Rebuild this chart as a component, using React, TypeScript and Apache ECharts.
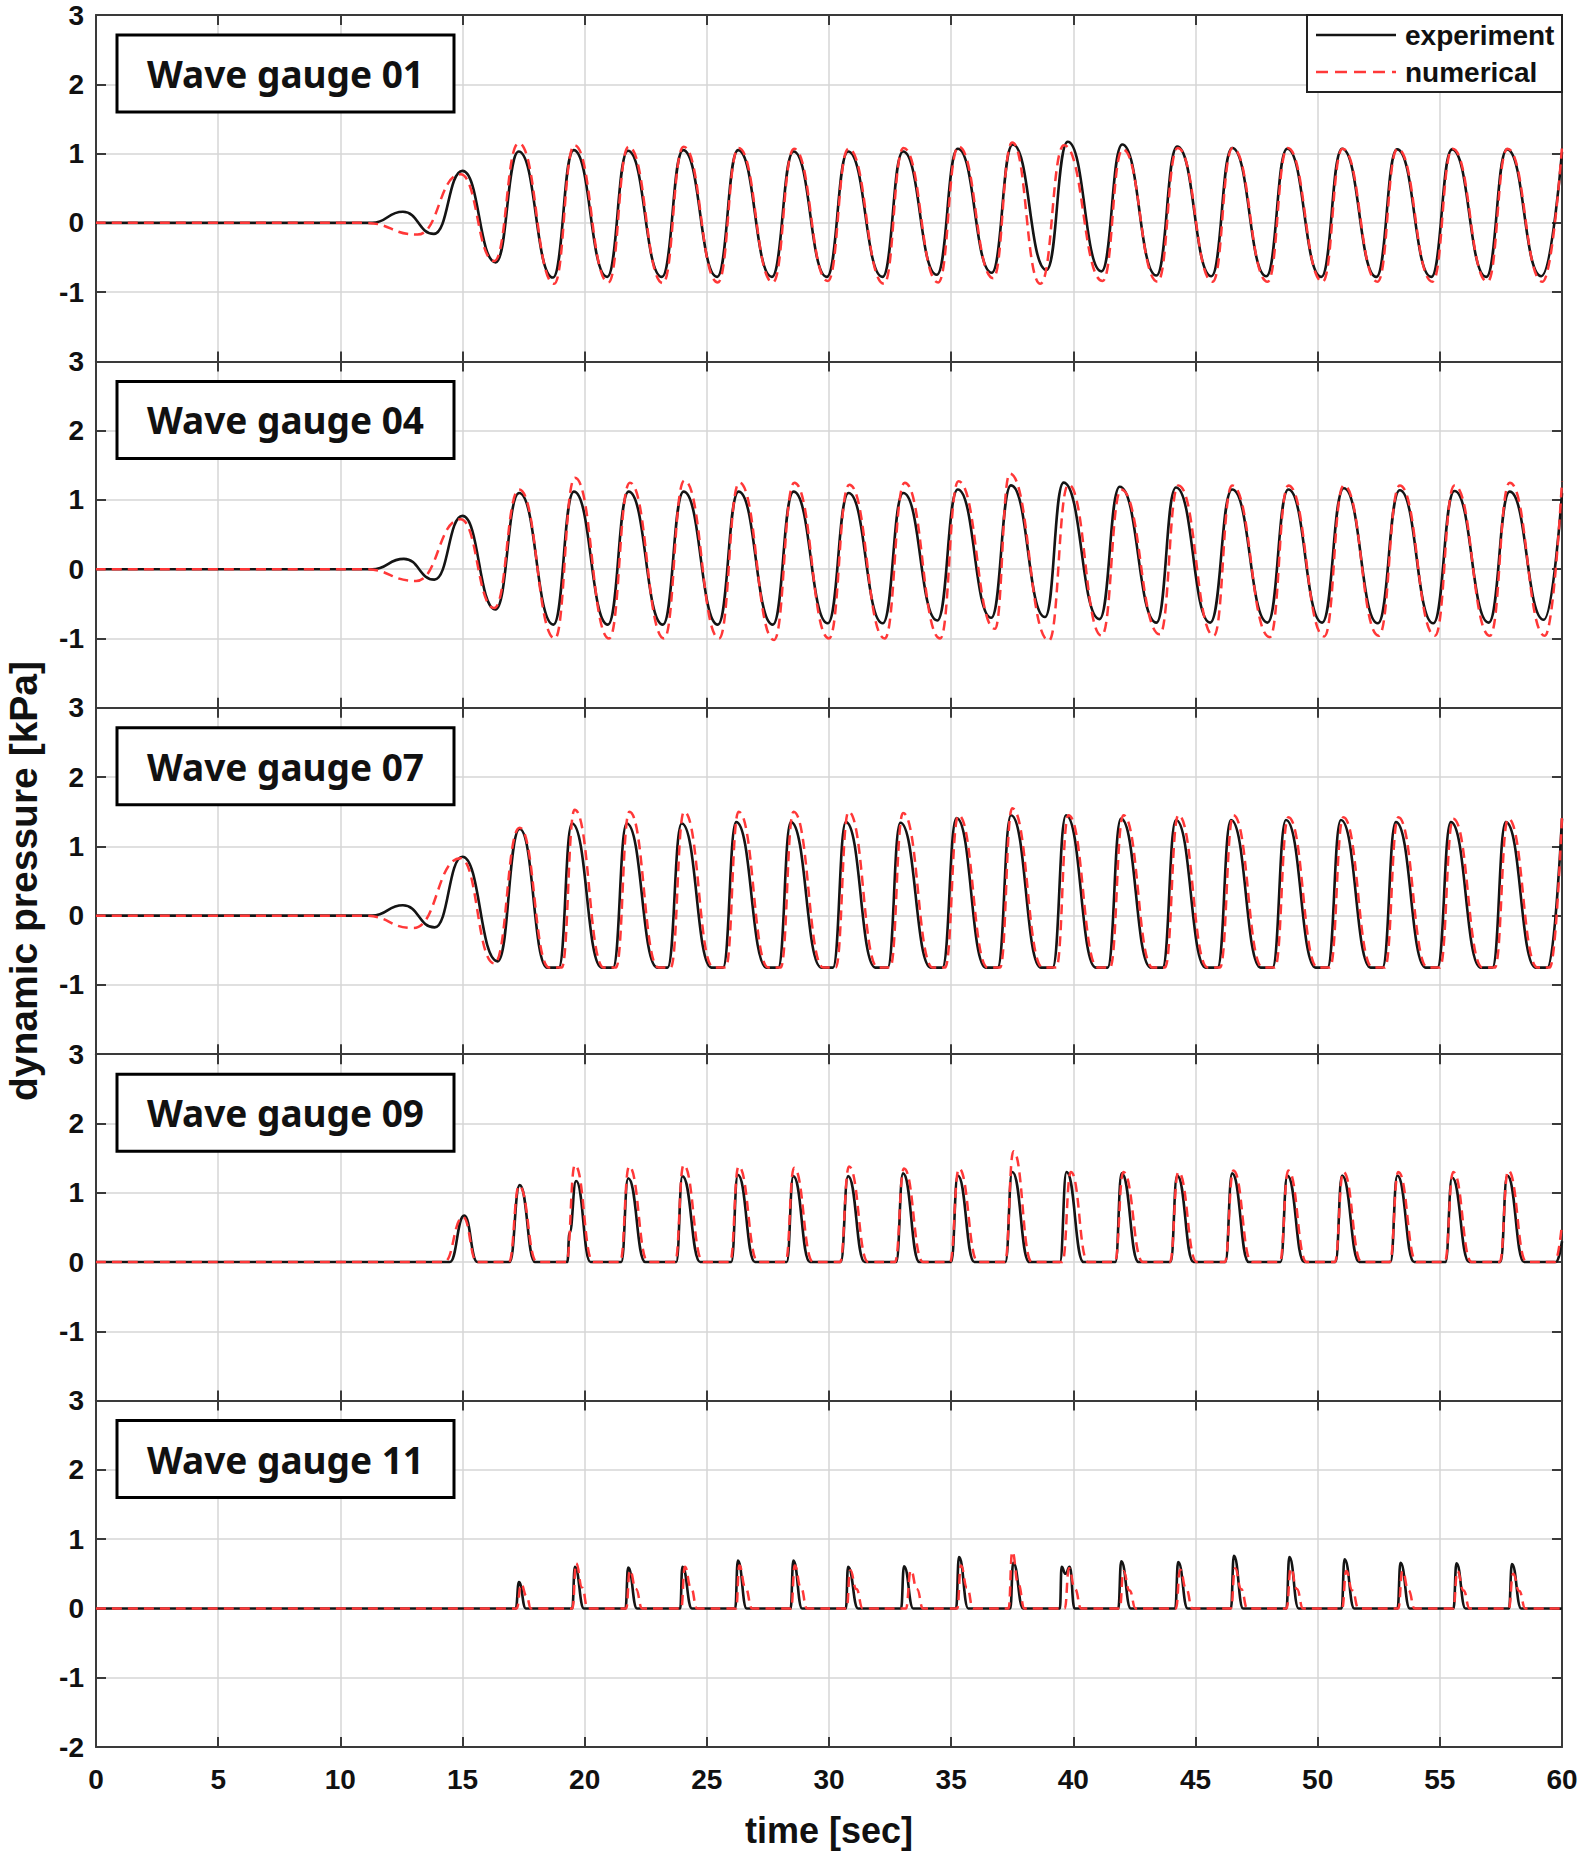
import React, { useEffect, useRef } from 'react';
import * as echarts from 'echarts';

// ---------- data (time [sec], dynamic pressure [kPa]) ----------
const gaugeNames = ['Wave gauge 01', 'Wave gauge 04', 'Wave gauge 07', 'Wave gauge 09', 'Wave gauge 11'];
const seriesNames = ['experiment', 'numerical'];
const xMin = 0, xMax = 60, xStep = 5;
const yMin = -2, yMax = 3, yStep = 1;

const g01Exp = [
  [0, 0], [11.3, 0], [12.56, 0.16], [13.83, -0.16], [15.0, 0.75], [16.36, -0.57], [17.3, 1.03], [18.7, -0.79],
  [19.55, 1.05], [20.92, -0.78], [21.77, 1.04], [23.16, -0.78], [24.03, 1.05], [25.42, -0.78], [26.28, 1.05],
  [27.66, -0.78], [28.55, 1.03], [29.91, -0.78], [30.78, 1.03], [32.19, -0.78], [33.03, 1.03], [34.41, -0.75],
  [35.27, 1.07], [36.66, -0.72], [37.52, 1.13], [38.9, -0.68], [39.77, 1.17], [41.15, -0.7], [42.0, 1.13],
  [43.4, -0.76], [44.25, 1.1], [45.65, -0.77], [46.5, 1.08], [47.9, -0.77], [48.75, 1.07], [50.15, -0.78],
  [51.0, 1.07], [52.4, -0.78], [53.25, 1.06], [54.65, -0.78], [55.5, 1.06], [56.9, -0.78], [57.75, 1.06],
  [59.15, -0.77], [60, 1.02],
];
const g01Num = [
  [0, 0], [11.0, 0], [13.16, -0.17], [14.92, 0.7], [16.3, -0.55], [17.3, 1.15], [18.75, -0.88], [19.58, 1.12],
  [20.97, -0.86], [21.8, 1.1], [23.2, -0.87], [24.05, 1.1], [25.45, -0.86], [26.3, 1.08], [27.7, -0.86],
  [28.57, 1.07], [29.95, -0.84], [30.8, 1.07], [32.25, -0.88], [33.05, 1.08], [34.47, -0.86], [35.3, 1.1],
  [36.72, -0.8], [37.5, 1.16], [38.65, -0.88], [39.62, 1.12], [41.2, -0.84], [42.02, 1.06], [43.45, -0.85],
  [44.27, 1.08], [45.7, -0.85], [46.52, 1.08], [47.95, -0.85], [48.77, 1.08], [50.2, -0.85], [51.02, 1.07],
  [52.45, -0.85], [53.27, 1.07], [54.7, -0.85], [55.52, 1.07], [56.95, -0.85], [57.77, 1.07], [59.2, -0.85],
  [60, 1.1],
];
const g04Exp = [
  [0, 0], [11.3, 0], [12.6, 0.15], [13.85, -0.15], [15.0, 0.77], [16.35, -0.58], [17.32, 1.1], [18.72, -0.8],
  [19.56, 1.12], [20.95, -0.8], [21.8, 1.12], [23.2, -0.8], [24.05, 1.12], [25.45, -0.8], [26.3, 1.12],
  [27.7, -0.8], [28.55, 1.12], [29.95, -0.78], [30.8, 1.1], [32.2, -0.78], [33.04, 1.1], [34.43, -0.74],
  [35.27, 1.15], [36.64, -0.7], [37.45, 1.21], [38.84, -0.69], [39.6, 1.25], [41.07, -0.72], [41.9, 1.19],
  [43.4, -0.77], [44.2, 1.18], [45.6, -0.77], [46.5, 1.15], [47.95, -0.77], [48.8, 1.15], [50.18, -0.77],
  [51.07, 1.17], [52.46, -0.78], [53.36, 1.14], [54.73, -0.78], [55.6, 1.13], [57.0, -0.77], [57.86, 1.12],
  [59.25, -0.73], [60, 1.1],
];
const g04Num = [
  [0, 0], [11.0, 0], [13.1, -0.17], [14.92, 0.72], [16.3, -0.56], [17.32, 1.15], [18.78, -1.0], [19.6, 1.32],
  [21.0, -1.0], [21.85, 1.25], [23.25, -1.0], [24.08, 1.28], [25.5, -1.0], [26.33, 1.25], [27.75, -1.02],
  [28.58, 1.25], [30.0, -1.0], [30.83, 1.22], [32.28, -1.0], [33.1, 1.25], [34.55, -1.0], [35.3, 1.27],
  [36.79, -0.86], [37.4, 1.38], [39.0, -1.03], [39.8, 1.22], [41.16, -0.96], [41.96, 1.15], [43.54, -0.94],
  [44.3, 1.21], [45.75, -0.96], [46.5, 1.21], [48.04, -0.98], [48.8, 1.21], [50.27, -0.97], [51.07, 1.21],
  [52.5, -0.96], [53.36, 1.21], [54.8, -0.96], [55.6, 1.21], [57.05, -0.96], [57.86, 1.25], [59.3, -0.96],
  [60, 1.27],
];
const g07Exp = [
  [0, 0], [11.3, 0], [12.56, 0.15], [13.86, -0.17], [15.0, 0.85], [16.44, -0.66], [17.34, 1.25],
  [18.47, -0.75], [18.94, -0.75], [19.48, 1.33], [20.7, -0.75], [21.16, -0.75], [21.72, 1.33],
  [22.97, -0.75], [23.39, -0.75], [23.97, 1.33], [25.19, -0.75], [25.66, -0.75], [26.2, 1.35],
  [27.45, -0.75], [27.92, -0.75], [28.44, 1.35], [29.69, -0.75], [30.16, -0.75], [30.69, 1.35],
  [31.9, -0.75], [32.4, -0.75], [32.92, 1.34], [34.17, -0.75], [34.64, -0.75], [35.22, 1.41],
  [36.42, -0.75], [36.9, -0.75], [37.45, 1.45], [38.67, -0.75], [39.15, -0.75], [39.7, 1.45],
  [40.92, -0.75], [41.4, -0.75], [41.95, 1.4], [43.17, -0.75], [43.65, -0.75], [44.2, 1.38],
  [45.42, -0.75], [45.9, -0.75], [46.45, 1.38], [47.67, -0.75], [48.15, -0.75], [48.7, 1.38],
  [49.92, -0.75], [50.4, -0.75], [50.95, 1.38], [52.17, -0.75], [52.65, -0.75], [53.2, 1.35],
  [54.42, -0.75], [54.9, -0.75], [55.45, 1.35], [56.67, -0.75], [57.15, -0.75], [57.7, 1.35],
  [58.92, -0.75], [59.4, -0.75], [60, 1.4],
];
const g07Num = [
  [0, 0], [11.0, 0], [13.0, -0.18], [14.92, 0.83], [16.3, -0.69], [17.34, 1.27], [18.55, -0.75],
  [19.06, -0.75], [19.59, 1.53], [20.78, -0.75], [21.28, -0.75], [21.83, 1.5], [23.02, -0.75],
  [23.52, -0.75], [24.07, 1.5], [25.27, -0.75], [25.77, -0.75], [26.3, 1.5], [27.52, -0.75],
  [28.02, -0.75], [28.55, 1.5], [29.77, -0.75], [30.27, -0.75], [30.8, 1.5], [32.0, -0.75],
  [32.5, -0.75], [33.03, 1.48], [34.25, -0.75], [34.75, -0.75], [35.3, 1.45], [36.5, -0.75],
  [37.0, -0.75], [37.5, 1.55], [38.75, -0.75], [39.3, -0.75], [39.8, 1.45], [41.0, -0.75],
  [41.5, -0.75], [42.05, 1.45], [43.25, -0.75], [43.75, -0.75], [44.3, 1.45], [45.5, -0.75],
  [46.0, -0.75], [46.55, 1.45], [47.75, -0.75], [48.25, -0.75], [48.8, 1.42], [50.0, -0.75],
  [50.5, -0.75], [51.05, 1.42], [52.25, -0.75], [52.75, -0.75], [53.3, 1.42], [54.5, -0.75],
  [55.0, -0.75], [55.55, 1.4], [56.75, -0.75], [57.25, -0.75], [57.8, 1.4], [59.0, -0.75],
  [59.5, -0.75], [60, 1.45],
];
const g09Exp = [
  [0, 0], [14.48, 0], [15.07, 0.67], [15.61, 0], [16.93, 0], [17.34, 1.11], [17.97, 0], [19.29, 0],
  [19.38, 0.42], [19.65, 1.17], [20.24, 0], [21.5, 0], [21.78, 1.21], [22.48, 0], [23.75, 0], [24.0, 1.24],
  [24.73, 0], [26.0, 0], [26.27, 1.26], [26.97, 0], [28.27, 0], [28.54, 1.24], [29.22, 0], [30.48, 0],
  [30.78, 1.24], [31.46, 0], [32.75, 0], [33.03, 1.28], [33.7, 0], [35.0, 0], [35.27, 1.25], [35.95, 0],
  [37.22, 0], [37.5, 1.3], [38.2, 0], [39.45, 0], [39.72, 1.3], [40.42, 0], [41.72, 0], [41.98, 1.28],
  [42.67, 0], [43.98, 0], [44.25, 1.25], [44.92, 0], [46.22, 0], [46.5, 1.28], [47.18, 0], [48.48, 0],
  [48.76, 1.25], [49.45, 0], [50.73, 0], [51.0, 1.25], [51.7, 0], [52.98, 0], [53.26, 1.25], [53.95, 0],
  [55.23, 0], [55.5, 1.22], [56.2, 0], [57.48, 0], [57.76, 1.25], [58.45, 0], [59.75, 0], [60, 0.3],
];
const g09Num = [
  [0, 0], [14.25, 0], [15.02, 0.65], [15.6, 0], [16.9, 0], [17.32, 1.1], [18.05, 0], [19.25, 0],
  [19.6, 1.4], [20.35, 0], [21.45, 0], [21.82, 1.38], [22.6, 0], [23.7, 0], [24.05, 1.4], [24.85, 0],
  [25.95, 0], [26.3, 1.38], [27.1, 0], [28.22, 0], [28.57, 1.36], [29.35, 0], [30.45, 0], [30.82, 1.38],
  [31.6, 0], [32.7, 0], [33.07, 1.35], [33.85, 0], [34.95, 0], [35.32, 1.35], [36.1, 0], [37.2, 0],
  [37.55, 1.6], [38.3, 0], [39.55, 0], [39.9, 1.3], [40.6, 0], [41.7, 0], [42.05, 1.3], [42.85, 0],
  [43.95, 0], [44.3, 1.3], [45.05, 0], [46.2, 0], [46.55, 1.32], [47.3, 0], [48.45, 0], [48.8, 1.32],
  [49.55, 0], [50.7, 0], [51.05, 1.3], [51.8, 0], [52.95, 0], [53.3, 1.3], [54.05, 0], [55.2, 0],
  [55.55, 1.3], [56.3, 0], [57.45, 0], [57.8, 1.32], [58.55, 0], [59.7, 0], [60, 0.55],
];
const g11Exp = [
  [0, 0], [17.18, 0], [17.31, 0.38], [17.59, 0], [19.49, 0], [19.6, 0.6], [19.97, 0], [21.67, 0],
  [21.78, 0.59], [22.14, 0], [23.91, 0], [24.0, 0.6], [24.39, 0], [26.16, 0], [26.27, 0.69], [26.63, 0],
  [28.43, 0], [28.54, 0.69], [28.9, 0], [30.69, 0], [30.78, 0.6], [31.19, 0], [32.95, 0], [33.07, 0.61],
  [33.45, 0], [35.2, 0], [35.32, 0.74], [35.7, 0], [37.42, 0], [37.54, 0.66], [37.95, 0], [39.45, 0],
  [39.52, 0.6], [39.68, 0.5], [39.85, 0.6], [40.05, 0], [41.84, 0], [41.96, 0.68], [42.35, 0], [44.17, 0],
  [44.29, 0.67], [44.68, 0], [46.45, 0], [46.57, 0.76], [46.95, 0], [48.72, 0], [48.84, 0.74], [49.22, 0],
  [50.98, 0], [51.1, 0.71], [51.5, 0], [53.27, 0], [53.39, 0.66], [53.77, 0], [55.56, 0], [55.68, 0.65],
  [56.05, 0], [57.83, 0], [57.95, 0.64], [58.33, 0], [60, 0],
];
const g11Num = [
  [0, 0], [17.22, 0], [17.4, 0.35], [17.62, 0.18], [17.8, 0], [19.5, 0], [19.65, 0.65], [19.9, 0.3],
  [20.12, 0], [21.7, 0], [21.85, 0.55], [22.1, 0.28], [22.35, 0], [23.95, 0], [24.1, 0.6], [24.35, 0.3],
  [24.6, 0], [26.2, 0], [26.33, 0.62], [26.58, 0.3], [26.85, 0], [28.45, 0], [28.6, 0.62], [28.85, 0.3],
  [29.1, 0], [30.72, 0], [30.87, 0.55], [31.12, 0.28], [31.38, 0], [33.15, 0], [33.35, 0.55], [33.6, 0.28],
  [33.85, 0], [35.25, 0], [35.4, 0.62], [35.65, 0.3], [35.9, 0], [37.35, 0], [37.5, 0.82], [37.75, 0.35],
  [38.0, 0], [39.65, 0], [39.82, 0.58], [40.07, 0.28], [40.32, 0], [41.9, 0], [42.05, 0.54], [42.3, 0.26],
  [42.55, 0], [44.2, 0], [44.37, 0.56], [44.62, 0.28], [44.87, 0], [46.45, 0], [46.62, 0.58], [46.87, 0.28],
  [47.12, 0], [48.73, 0], [48.9, 0.58], [49.15, 0.28], [49.4, 0], [51.0, 0], [51.17, 0.54], [51.42, 0.26],
  [51.67, 0], [53.3, 0], [53.47, 0.54], [53.72, 0.26], [53.97, 0], [55.55, 0], [55.72, 0.54], [55.97, 0.26],
  [56.22, 0], [57.82, 0], [58.0, 0.5], [58.25, 0.25], [58.5, 0], [60, 0],
];

const expData = [g01Exp, g04Exp, g07Exp, g09Exp, g11Exp];
const numData = [g01Num, g04Num, g07Num, g09Num, g11Num];

// ---------- layout / style ----------
const W = 1583;
const H = 1851;
const PLOT_LEFT = 96;
const PLOT_RIGHT = 1562;
const PLOT_TOP = 15;
const PANEL_H = 346.4;
const AXIS_COLOR = '#3a3a3a';
const GRID_COLOR = '#d6d6d6';
const LABEL_FONT = 'Liberation Sans';
const EXP_COLOR = '#141414';
const NUM_COLOR = '#ff3838';

function buildOption() {
  const n = gaugeNames.length;
  const grids: any[] = [];
  const xAxes: any[] = [];
  const yAxes: any[] = [];
  const series: any[] = [];
  const graphics: any[] = [];

  const tickStyle = { show: true, inside: true, length: 10, lineStyle: { color: AXIS_COLOR, width: 2 } };
  const lineStyle = { show: true, onZero: false, lineStyle: { color: AXIS_COLOR, width: 2 } };
  const labelStyle = { fontFamily: LABEL_FONT, fontWeight: 'bold', fontSize: 28, color: '#111' };

  for (let i = 0; i < n; i++) {
    const top = PLOT_TOP + i * PANEL_H;
    grids.push({
      left: PLOT_LEFT, top, width: PLOT_RIGHT - PLOT_LEFT, height: PANEL_H,
      containLabel: false, outerBoundsMode: 'none',
    });
    const isLast = i === n - 1;
    // bottom x axis
    xAxes.push({
      type: 'value', gridIndex: i, min: xMin, max: xMax, interval: xStep, position: 'bottom',
      axisLine: lineStyle, axisTick: tickStyle,
      axisLabel: { show: isLast, margin: 18, ...labelStyle },
      splitLine: { show: true, lineStyle: { color: GRID_COLOR, width: 1.5 } },
      name: isLast ? 'time [sec]' : '', nameLocation: 'middle', nameGap: 65,
      nameTextStyle: { fontFamily: LABEL_FONT, fontWeight: 'bold', fontSize: 36, color: '#111' },
    });
    // top x axis (ticks only)
    xAxes.push({
      type: 'value', gridIndex: i, min: xMin, max: xMax, interval: xStep, position: 'top',
      axisLine: lineStyle, axisTick: tickStyle, axisLabel: { show: false }, splitLine: { show: false },
    });
    // left y axis
    yAxes.push({
      type: 'value', gridIndex: i, min: yMin, max: yMax, interval: yStep, position: 'left',
      axisLine: lineStyle, axisTick: tickStyle,
      axisLabel: {
        margin: 12, ...labelStyle,
        formatter: (v: number) => (v === yMin && !isLast ? '' : String(v)),
      },
      splitLine: { show: true, lineStyle: { color: GRID_COLOR, width: 1.5 } },
      name: i === 2 ? 'dynamic pressure [kPa]' : '', nameLocation: 'middle', nameGap: 53, nameRotate: 90,
      nameTextStyle: { fontFamily: LABEL_FONT, fontWeight: 'bold', fontSize: 39, color: '#111' },
    });
    // right y axis (ticks only)
    yAxes.push({
      type: 'value', gridIndex: i, min: yMin, max: yMax, interval: yStep, position: 'right',
      axisLine: lineStyle, axisTick: tickStyle, axisLabel: { show: false }, splitLine: { show: false },
    });

    series.push({
      name: seriesNames[0], type: 'line', xAxisIndex: 2 * i, yAxisIndex: 2 * i, data: expData[i],
      showSymbol: false, symbol: 'none', smooth: 0.5, smoothMonotone: 'x',
      lineStyle: { color: EXP_COLOR, width: 2.6 }, z: 3,
    });
    series.push({
      name: seriesNames[1], type: 'line', xAxisIndex: 2 * i, yAxisIndex: 2 * i, data: numData[i],
      showSymbol: false, symbol: 'none', smooth: 0.5, smoothMonotone: 'x',
      lineStyle: { color: NUM_COLOR, width: 2.5, type: [10, 6] }, z: 4,
    });

    // gauge label box
    const bx = 117, bw = 337, bh = 77, by = top + 20;
    graphics.push({
      type: 'rect', z: 100, shape: { x: bx, y: by, width: bw, height: bh },
      style: { fill: '#fff', stroke: '#000', lineWidth: 3 },
    });
    graphics.push({
      type: 'text', z: 101, x: bx + bw / 2, y: by + bh / 2,
      style: {
        text: gaugeNames[i], fill: '#111', fontFamily: 'Noto Sans', fontWeight: 'bold', fontSize: 37,
        align: 'center', verticalAlign: 'middle', textAlign: 'center', textVerticalAlign: 'middle',
      },
    });
  }

  // legend box (top right)
  const lx = 1307, ly = PLOT_TOP, lw = PLOT_RIGHT - 1307, lh = 77;
  graphics.push({
    type: 'rect', z: 100, shape: { x: lx, y: ly, width: lw, height: lh },
    style: { fill: '#fff', stroke: '#222', lineWidth: 2 },
  });
  const rows = [ly + 20, ly + 57];
  graphics.push({
    type: 'line', z: 101, shape: { x1: lx + 9, y1: rows[0], x2: lx + 89, y2: rows[0] },
    style: { stroke: EXP_COLOR, lineWidth: 2.5 },
  });
  graphics.push({
    type: 'line', z: 101, shape: { x1: lx + 9, y1: rows[1], x2: lx + 89, y2: rows[1] },
    style: { stroke: NUM_COLOR, lineWidth: 2.5, lineDash: [12, 7] },
  });
  seriesNames.forEach((s, k) => {
    graphics.push({
      type: 'text', z: 101, x: lx + 98, y: rows[k],
      style: {
        text: s, fill: '#111', fontFamily: LABEL_FONT, fontWeight: 'bold', fontSize: 28,
        align: 'left', verticalAlign: 'middle', textAlign: 'left', textVerticalAlign: 'middle',
      },
    });
  });

  return {
    animation: false,
    backgroundColor: '#fff',
    grid: grids,
    xAxis: xAxes,
    yAxis: yAxes,
    series,
    graphic: { elements: graphics },
  };
}

export default function App() {
  const ref = useRef<HTMLDivElement>(null);
  useEffect(() => {
    if (!ref.current) return;
    const chart = echarts.init(ref.current, undefined, { renderer: 'svg' });
    chart.setOption(buildOption());
    return () => chart.dispose();
  }, []);
  return (
    <div
      ref={ref}
      style={{ position: 'absolute', left: 0, top: 0, width: W, height: H, background: '#fff' }}
    />
  );
}
